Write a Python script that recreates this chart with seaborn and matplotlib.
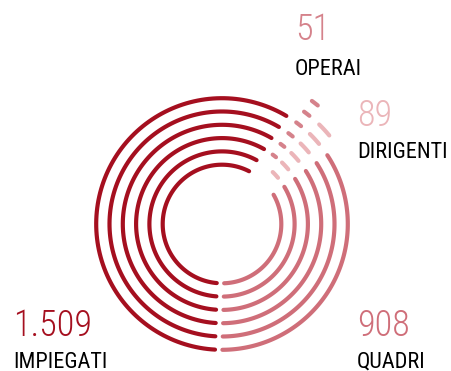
import numpy as np
import pandas as pd
import matplotlib
matplotlib.use("Agg")
import matplotlib.pyplot as plt
import seaborn as sns
from matplotlib import font_manager

# Staff by category
categories = ["IMPIEGATI", "OPERAI", "DIRIGENTI", "QUADRI"]
values = [1509, 51, 89, 908]
number_labels = ["1.509", "51", "89", "908"]

# Styling
colors = ["#a50f1f", "#d5828b", "#ebb5b9", "#cf6e79"]
ring_shift = [0, 2, 1, 0]          # small categories are pushed outward by whole ring steps
N_RINGS = 6
R_INNER = 59.3                     # px
R_STEP = 13.3                      # px
START_DEG = 181.5                  # clockwise from 12 o'clock
PAD_PX = 7.0                       # trimmed from large arcs next to the small ones
PAD_START_PX = 3.7                 # trimmed at the 6 o'clock junction
PAD_SMALL_DEG = [0, 2.2, 3.2, 0]   # trimmed from each end of the short dashes
LW = 3.0

W, H = 452, 371
DPI = 100
CX, CY = 222, 224                  # centre of the rings, px from top-left
RMAX = 170

sns.set_theme(style="white")
available = {f.name for f in font_manager.fontManager.ttflist}
family = "Roboto Condensed" if "Roboto Condensed" in available else "Roboto"
plt.rcParams["font.family"] = [family, "DejaVu Sans"]

fig = plt.figure(figsize=(W / DPI, H / DPI), dpi=DPI)
fig.patch.set_facecolor("white")

# Polar axes sized so that one radial unit equals one pixel
ax = fig.add_axes([(CX - RMAX) / W, (H - CY - RMAX) / H, 2 * RMAX / W, 2 * RMAX / H],
                  projection="polar")
ax.set_theta_zero_location("N")
ax.set_theta_direction(-1)

total = sum(values)
fractions = np.array(values) / total
bounds = np.concatenate([[0], np.cumsum(fractions)]) * 2 * np.pi
start = np.deg2rad(START_DEG)
last = len(categories) - 1

for ring in range(N_RINGS):
    for k, cat in enumerate(categories):
        r = R_INNER + R_STEP * (ring + ring_shift[k])
        if PAD_SMALL_DEG[k] > 0:
            pad_a = pad_b = np.deg2rad(PAD_SMALL_DEG[k])
        else:
            pad_a = (PAD_START_PX if k == 0 else PAD_PX) / r
            pad_b = (PAD_START_PX if k == last else PAD_PX) / r
        t0 = start + bounds[k] + pad_a
        t1 = start + bounds[k + 1] - pad_b
        theta = np.linspace(t0, t1, 120)
        df = pd.DataFrame({"theta": theta, "r": np.full_like(theta, r)})
        sns.lineplot(data=df, x="theta", y="r", ax=ax, color=colors[k],
                     linewidth=LW, sort=False, estimator=None,
                     solid_capstyle="round", legend=False)
ax.set_rlim(0, RMAX)
ax.set_axis_off()

# Value and name labels (px positions: left edge, baselines)
label_pos = {
    "IMPIEGATI": (13, 336.5, 367.5),
    "OPERAI": (295, 40, 75),
    "DIRIGENTI": (357, 126.5, 158.5),
    "QUADRI": (357, 336.5, 367.5),
}
for k, cat in enumerate(categories):
    x, y_num, y_lab = label_pos[cat]
    fig.text(x / W, 1 - y_num / H, number_labels[k], color=colors[k],
             fontsize=26, fontweight="light", ha="left", va="baseline")
    fig.text(x / W, 1 - y_lab / H, cat, color="black",
             fontsize=16, ha="left", va="baseline")

fig.savefig("out.png", dpi=DPI, facecolor="white")
